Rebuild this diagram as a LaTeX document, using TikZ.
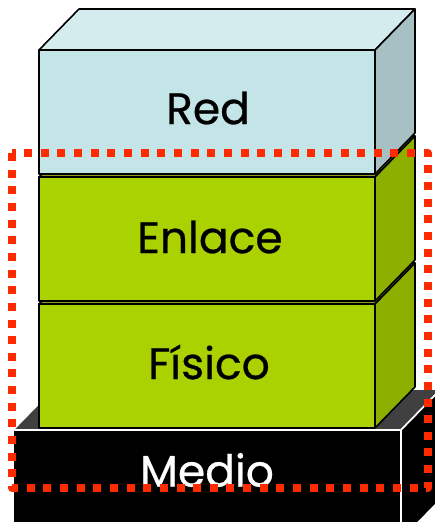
\documentclass[tikz,border=0pt]{standalone}
\usepackage{fontspec}
\setmainfont{Poppins}
\newfontfamily\layerfont[FakeBold=0.6]{Poppins}
\definecolor{redfront}{HTML}{C4E5E8}
\definecolor{redtop}{HTML}{D4ECEE}
\definecolor{redside}{HTML}{A7C0C3}
\definecolor{grnfront}{HTML}{AAD200}
\definecolor{grntop}{HTML}{8E9E1C}
\definecolor{grnside}{HTML}{8CAF00}
\definecolor{medtop}{HTML}{404040}
\definecolor{ringred}{HTML}{FF2A00}
\begin{document}
\begin{tikzpicture}[x=1pt,y=-1pt,line join=round,
  layertext/.style={font=\layerfont\fontsize{44}{48}\selectfont, inner sep=0pt},
  ring/.style={draw=ringred, line width=8pt, dash pattern=on 8pt off 8.65pt}]
\useasboundingbox (0,0) rectangle (435,522);
\clip (0,0) rectangle (435,522);
% a box seen from the front-right-top: #1,#2 front top-left; #3,#4 front bottom-right
\newcommand\layerblock[8]{%
  \filldraw[fill=#6, draw=#8, line width=1.6pt]
    (#1,#2) -- (#1+40,#2-41) -- (#3+40,#2-41) -- (#3,#2) -- cycle;
  \filldraw[fill=#7, draw=#8, line width=1.6pt]
    (#3,#2) -- (#3+40,#2-41) -- (#3+40,#4-41) -- (#3,#4) -- cycle;
  \filldraw[fill=#5, draw=#8, line width=1.6pt]
    (#1,#2) rectangle (#3,#4);
}
% transmission medium at the bottom
\layerblock{13}{430}{401}{540}{black}{medtop}{black}{white}
% stacked layers
\layerblock{39}{304}{375}{428}{grnfront}{grntop}{grnside}{black}
\layerblock{39}{177}{375}{301}{grnfront}{grntop}{grnside}{black}
\layerblock{39}{50}{375}{174}{redfront}{redtop}{redside}{black}
% layer names
\node[layertext] (red) at (208,108) {Red};
\node[layertext] (enlace) at (210,237) {Enlace};
\node[layertext] (fisico) at (209,362) {Físico};
\node[layertext, text=white] (medio) at (207,470) {Medio};
% dotted frame around the lower layers
\draw[ring] (12,153) rectangle (428,488);
\end{tikzpicture}
\end{document}
